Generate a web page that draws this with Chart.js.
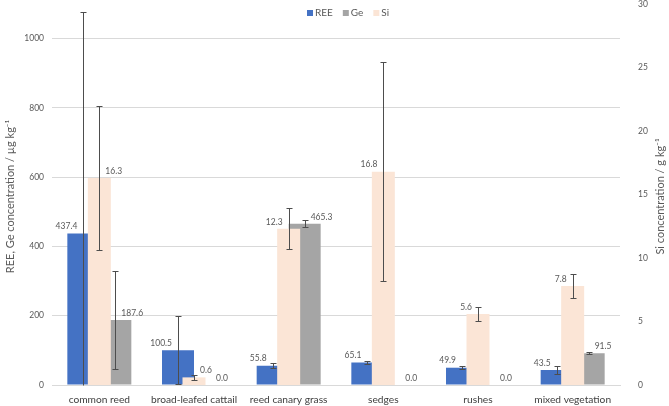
<!DOCTYPE html>
<html>
<head>
<meta charset="utf-8">
<script src="https://cdn.jsdelivr.net/npm/chart.js@4.4.1/dist/chart.umd.min.js"></script>
<style>
html, body { margin: 0; padding: 0; background: #fff; }
</style>
</head>
<body>
<canvas id="chart" width="669" height="406"></canvas>
<script>
'use strict';

// Data
const categories = ['common reed', 'broad-leafed cattail', 'reed canary grass', 'sedges', 'rushes', 'mixed vegetation'];
const reeValues = [437.4, 100.5, 55.8, 65.1, 49.9, 43.5];   // µg/kg
const geValues = [187.6, 0.0, 465.3, 0.0, 0.0, 91.5];       // µg/kg
const siValues = [16.3, 0.6, 12.3, 16.8, 5.6, 7.8];         // g/kg
const reeErrors = [640, 99, 7, 4, 4, 12];
const geErrors = [141, 0, 10.5, 0, 0, 3];
const siErrors = [5.7, 0.2, 1.6, 8.6, 0.57, 0.95];
const leftTicks = [0, 200, 400, 600, 800, 1000];
const rightTicks = [0, 5, 10, 15, 20, 25, 30];

const FONT = 'Lato';
const TEXT_GRAY = '#595959';

// which side of the Si error bar its label sits on (1 = right, -1 = left)
const siLabelSide = [1, 1, -1, -1, -1, -1];

const overlayPlugin = {
    id: 'overlay',
    afterDatasetsDraw(chart) {
        const ctx = chart.ctx;
        const area = chart.chartArea;

        // error bars
        ctx.save();
        ctx.beginPath();
        ctx.rect(area.left, area.top - 2, area.right - area.left, area.bottom - area.top + 3);
        ctx.clip();
        ctx.strokeStyle = '#4d4d4d';
        ctx.lineWidth = 1;
        chart.data.datasets.forEach((ds, i) => {
            const meta = chart.getDatasetMeta(i);
            const yScale = chart.scales[meta.yAxisID];
            meta.data.forEach((bar, j) => {
                const err = ds.errors[j];
                if (!err) return;
                const v = ds.data[j];
                const x = Math.round(bar.x) + 0.5;
                const yTop = Math.round(yScale.getPixelForValue(v + err)) + 0.5;
                const lowClipped = v - err < yScale.min;
                const yBot = Math.round(yScale.getPixelForValue(Math.max(v - err, yScale.min))) + 0.5;
                ctx.beginPath();
                ctx.moveTo(x, yTop);
                ctx.lineTo(x, yBot);
                ctx.moveTo(x - 3, yTop);
                ctx.lineTo(x + 3, yTop);
                if (!lowClipped) {
                    ctx.moveTo(x - 3, yBot);
                    ctx.lineTo(x + 3, yBot);
                }
                ctx.stroke();
            });
        });
        ctx.restore();

        // value labels
        ctx.save();
        ctx.font = '8.5px ' + FONT;
        ctx.fillStyle = TEXT_GRAY;
        ctx.textBaseline = 'middle';
        chart.data.datasets.forEach((ds, i) => {
            const meta = chart.getDatasetMeta(i);
            meta.data.forEach((bar, j) => {
                let side = ds.labelSide;
                if (ds.label === 'Si') side = siLabelSide[j];
                ctx.textAlign = side > 0 ? 'left' : 'right';
                const x = bar.x + side * 6;
                ctx.fillText(ds.data[j].toFixed(1), x, bar.y - 7);
            });
        });
        ctx.restore();
    },
    afterDraw(chart) {
        const ctx = chart.ctx;
        const area = chart.chartArea;
        const midY = (area.top + area.bottom) / 2 + 2;

        // axis titles
        ctx.save();
        ctx.fillStyle = TEXT_GRAY;
        ctx.font = '11px ' + FONT;
        ctx.textAlign = 'center';
        ctx.textBaseline = 'middle';
        ctx.translate(10, midY);
        ctx.rotate(-Math.PI / 2);
        ctx.fillText('REE, Ge concentration / \u00b5g kg\u207b\u00b9', 0, 0);
        ctx.restore();

        ctx.save();
        ctx.fillStyle = TEXT_GRAY;
        ctx.font = '11px ' + FONT;
        ctx.textAlign = 'center';
        ctx.textBaseline = 'middle';
        ctx.translate(660, midY);
        ctx.rotate(-Math.PI / 2);
        ctx.fillText('Si concentration / g kg\u207b\u00b9', 0, 0);
        ctx.restore();

        // legend
        ctx.save();
        ctx.font = '10px ' + FONT;
        ctx.textBaseline = 'middle';
        ctx.textAlign = 'left';
        let x = 307;
        const y = 13;
        chart.data.datasets.forEach(ds => {
            ctx.fillStyle = ds.backgroundColor;
            ctx.fillRect(x, y - 3, 6, 6);
            ctx.fillStyle = TEXT_GRAY;
            ctx.fillText(ds.label, x + 8, y);
            x += 8 + ctx.measureText(ds.label).width + 10;
        });
        ctx.restore();
    }
};

// fixed axis boxes so the plot area lands where the original has it
function fixVertical(width) {
    return scale => {
        scale.width = width;
        scale.paddingTop = 0;
        scale.paddingBottom = 0;
    };
}

const ctx = document.getElementById('chart').getContext('2d');
const chart = new Chart(ctx, {
    type: 'bar',
    data: {
        labels: categories,
        datasets: [
            {
                label: 'REE',
                data: reeValues,
                errors: reeErrors,
                labelSide: -1,
                backgroundColor: '#4472C4',
                yAxisID: 'y',
                order: 1,
                categoryPercentage: 0.676,
                barPercentage: 1
            },
            {
                label: 'Ge',
                data: geValues,
                errors: geErrors,
                labelSide: 1,
                backgroundColor: '#A5A5A5',
                yAxisID: 'y',
                order: 2,
                categoryPercentage: 0.676,
                barPercentage: 1
            },
            {
                // Si sits on the secondary axis and overlaps the REE/Ge pair, centred
                label: 'Si',
                data: siValues,
                errors: siErrors,
                labelSide: -1,
                backgroundColor: '#FBE5D6',
                yAxisID: 'y2',
                order: 0,
                grouped: false,
                categoryPercentage: 0.243,
                barPercentage: 1
            }
        ]
    },
    options: {
        responsive: false,
        animation: false,
        layout: { padding: { top: 4, left: 0, right: 0, bottom: 0 } },
        plugins: {
            legend: { display: false },
            tooltip: { enabled: false }
        },
        scales: {
            x: {
                type: 'category',
                grid: { display: false },
                border: { color: '#d9d9d9' },
                ticks: {
                    color: '#404040',
                    font: { family: FONT, size: 10.2 },
                    padding: 1,
                    maxRotation: 0,
                    autoSkip: false
                },
                afterFit: scale => { scale.height = 21; }
            },
            y: {
                position: 'left',
                min: 0,
                max: 1100,
                grid: { color: '#d9d9d9', drawTicks: false },
                border: { display: false },
                ticks: {
                    color: TEXT_GRAY,
                    font: { family: FONT, size: 8.5 },
                    padding: 8,
                    callback: v => String(v)
                },
                afterBuildTicks: scale => { scale.ticks = leftTicks.map(v => ({ value: v })); },
                afterFit: fixVertical(52)
            },
            y2: {
                position: 'right',
                min: 0,
                max: 30,
                grid: { display: false },
                border: { display: false },
                ticks: {
                    color: TEXT_GRAY,
                    font: { family: FONT, size: 8.5 },
                    padding: 10,
                    callback: v => String(v)
                },
                afterBuildTicks: scale => { scale.ticks = rightTicks.map(v => ({ value: v })); },
                afterFit: fixVertical(49)
            }
        }
    },
    plugins: [overlayPlugin]
});
</script>
</body>
</html>
